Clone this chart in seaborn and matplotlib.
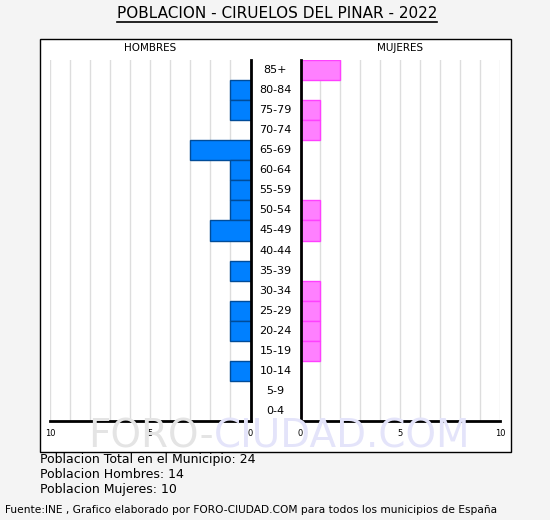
import pandas as pd
import seaborn as sns
import matplotlib.pyplot as plt
from matplotlib.patches import Rectangle
from matplotlib.transforms import blended_transform_factory

# Age groups, top row first
grupos = ["85+", "80-84", "75-79", "70-74", "65-69", "60-64", "55-59", "50-54", "45-49",
          "40-44", "35-39", "30-34", "25-29", "20-24", "15-19", "10-14", "5-9", "0-4"]
hombres = [0, 1, 1, 0, 3, 1, 1, 1, 2, 0, 1, 0, 1, 1, 0, 1, 0, 0]
mujeres = [2, 0, 1, 1, 0, 0, 0, 1, 1, 0, 0, 1, 1, 1, 1, 0, 0, 0]
ticks = [10, 5, 0]

df = pd.DataFrame({"grupo": grupos, "Hombres": hombres, "Mujeres": mujeres})

W, H = 550, 520
bg = "#f4f4f4"
fig = plt.figure(figsize=(W / 100, H / 100), dpi=100, facecolor=bg)


def px_axes(x0, y0, x1, y1):
    # pixel box (top-left origin) -> figure axes
    return fig.add_axes([x0 / W, 1 - y1 / H, (x1 - x0) / W, (y1 - y0) / H])


# white panel with border (behind the axes)
fig.patches.append(Rectangle((40 / W, 1 - 452 / H), 471 / W, 413 / H, transform=fig.transFigure,
                             facecolor="white", edgecolor="black", linewidth=1, zorder=-1))

ax_l = px_axes(50, 60, 250.5, 421)
ax_r = px_axes(300.5, 60, 500, 421)

sns.barplot(data=df, x="Hombres", y="grupo", order=grupos, ax=ax_l, width=1,
            color="#0080ff", edgecolor="#004c99", linewidth=1, saturation=1, zorder=3)
sns.barplot(data=df, x="Mujeres", y="grupo", order=grupos, ax=ax_r, width=1,
            color="#ff80ff", edgecolor="#ff40ff", linewidth=1, saturation=1, zorder=3)

for ax in (ax_l, ax_r):
    ax.set_facecolor("none")
    ax.set_ylim(17.5, -0.5)
    ax.set_yticks([])
    ax.set_xlabel("")
    ax.set_ylabel("")
    for x in range(1, 11):
        ax.axvline(x, color="#dddddd", linewidth=1, zorder=1)
    ax.set_xticks(ticks)
    ax.set_xticklabels([str(t) for t in ticks], fontsize=6)
    ax.tick_params(axis="x", length=0, pad=6)
    ax.spines["top"].set_visible(False)
    ax.spines["bottom"].set_linewidth(2)
    for s in ax.spines.values():
        s.set_zorder(5)

ax_l.set_xlim(10, 0)
ax_r.set_xlim(0, 10)
ax_l.spines["left"].set_visible(False)
ax_l.spines["right"].set_linewidth(2)
ax_r.spines["right"].set_visible(False)
ax_r.spines["left"].set_linewidth(2)

# age labels in the middle gap
tr = blended_transform_factory(ax_l.transAxes, ax_l.transData)
for i, g in enumerate(grupos):
    ax_l.text(1 + 25 / 200.5, i, g, transform=tr, ha="center", va="center", fontsize=8)

fig.text(150 / W, 1 - 48 / H, "HOMBRES", ha="center", va="center", fontsize=7.5)
fig.text(400 / W, 1 - 48 / H, "MUJERES", ha="center", va="center", fontsize=7.5)

# title, underlined
fig.text(277 / W, 1 - 14 / H, "POBLACION - CIRUELOS DEL PINAR - 2022",
         ha="center", va="center", fontsize=11)
fig.add_artist(plt.Line2D([117 / W, 437 / W], [1 - 21.5 / H, 1 - 21.5 / H], color="black", linewidth=1.2))

# watermark in two colours
w1 = fig.text(88 / W, 1 - 437 / H, "FORO-", fontsize=28, color="#e4e4e4", va="center", ha="left", zorder=1)
fig.canvas.draw()
x_end = w1.get_window_extent().x1
fig.text(x_end / W, 1 - 437 / H, "CIUDAD.COM", fontsize=28, color="#e4e4fa", va="center", ha="left", zorder=1)

total = sum(hombres) + sum(mujeres)
fig.text(40 / W, 1 - 460 / H, f"Poblacion Total en el Municipio: {total}", fontsize=9, va="center")
fig.text(40 / W, 1 - 475 / H, f"Poblacion Hombres: {sum(hombres)}", fontsize=9, va="center")
fig.text(40 / W, 1 - 490 / H, f"Poblacion Mujeres: {sum(mujeres)}", fontsize=9, va="center")
fig.text(5 / W, 1 - 510 / H,
         "Fuente:INE , Grafico elaborado por FORO-CIUDAD.COM para todos los municipios de España",
         fontsize=7.7, va="center")

fig.savefig("out.png", dpi=100, facecolor=bg)
